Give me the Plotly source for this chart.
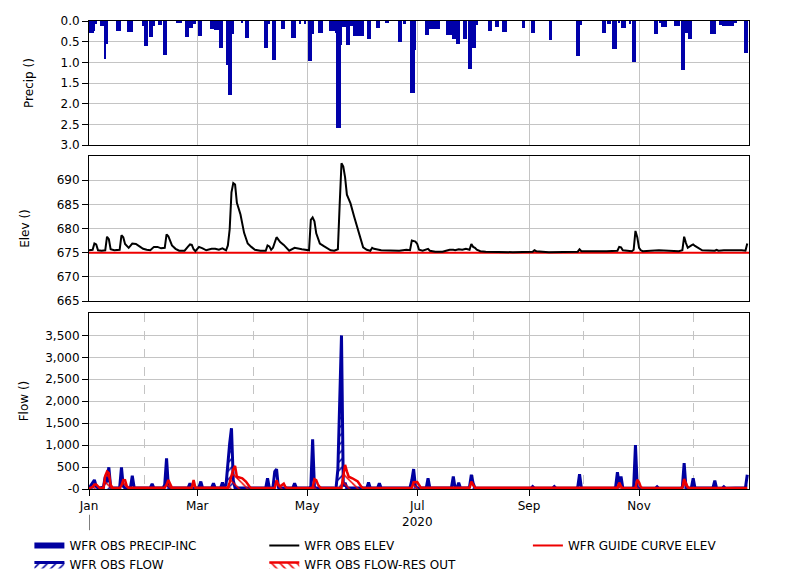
import pandas as pd
import plotly.graph_objects as go

BASE = pd.Timestamp("2020-01-01")

# ---------------- data (day-of-year offsets from 2020-01-01) ----------------
precip_days = [0, 1, 2, 3, 4, 7, 8, 9, 10, 16, 17, 22, 23, 24, 30, 31, 32, 34, 35, 36,
               39, 40, 42, 43, 49, 50, 51, 54, 55, 56, 57, 58, 59, 61, 62, 68, 69, 70, 71, 72,
               73, 74, 77, 78, 79, 80, 85, 87, 88, 98, 99, 100, 102, 103, 107, 108, 113, 114,
               117, 120, 122, 123, 124, 128, 129, 134, 135, 136, 137, 138, 139, 140, 141, 142,
               143, 144, 145, 146, 147, 148, 149, 150, 151, 152, 155, 156, 160, 161, 165, 166,
               172, 173, 175, 179, 180, 181, 187, 188, 189, 190, 191, 192, 193, 194, 199, 200,
               201, 202, 203, 204, 205, 208, 209, 211, 212, 213, 214, 215, 222, 223, 226, 227,
               230, 231, 241, 246, 247, 256, 271, 272, 273, 285, 286, 288, 289, 291, 292, 294,
               296, 297, 300, 302, 303, 314, 315, 317, 318, 319, 320, 325, 326, 327, 329, 330,
               331, 332, 333, 334, 345, 346, 347, 350, 351, 352, 353, 354, 355, 356, 357, 358,
               359, 364, 365]
precip_vals = [0.28, 0.28, 0.28, 0.25, 0.08, 0.12, 0.12, 0.91, 0.55, 0.24, 0.24, 0.26, 0.26, 0.26,
               0.12, 0.6, 0.6, 0.39, 0.39, 0.12, 0.1, 0.1, 0.82, 0.82, 0.06, 0.06, 0.06, 0.39,
               0.39, 0.16, 0.16, 0.07, 0.07, 0.36, 0.36, 0.2, 0.2, 0.22, 0.22, 0.22, 0.65, 0.65,
               1.07, 1.78, 1.78, 0.32, 0.06, 0.42, 0.42, 0.65, 0.65, 0.08, 0.94, 0.94, 0.2, 0.2,
               0.4, 0.4, 0.08, 0.08, 0.97, 0.97, 0.32, 0.28, 0.28, 0.24, 0.24, 0.24, 0.28, 2.6,
               2.6, 0.57, 0.15, 0.15, 0.57, 0.57, 0.12, 0.12, 0.37, 0.37, 0.37, 0.37, 0.37, 0.37,
               0.44, 0.44, 0.16, 0.16, 0.06, 0.06, 0.5, 0.5, 0.08, 1.75, 1.75, 0.69, 0.34, 0.34,
               0.2, 0.2, 0.2, 0.2, 0.2, 0.2, 0.34, 0.34, 0.34, 0.44, 0.44, 0.56, 0.56, 0.44, 0.44,
               1.15, 1.15, 0.65, 0.65, 0.1, 0.23, 0.23, 0.15, 0.15, 0.26, 0.26, 0.16, 0.28, 0.28,
               0.46, 0.85, 0.85, 0.1, 0.28, 0.28, 0.08, 0.08, 0.67, 0.67, 0.06, 0.18, 0.18, 0.08,
               0.98, 0.98, 0.31, 0.31, 0.06, 0.15, 0.15, 0.15, 0.12, 0.12, 0.12, 1.19, 1.19, 0.28,
               0.28, 0.44, 0.44, 0.32, 0.32, 0.32, 0.1, 0.1, 0.12, 0.12, 0.12, 0.12, 0.12, 0.12,
               0.06, 0.06, 0.77, 0.77]

elev_days = [0, 2, 3, 4, 5, 7, 9, 10, 11, 12, 14, 17, 18, 19, 20, 22, 24, 26, 28, 30, 32, 34,
             36, 38, 40, 42, 43, 44, 46, 48, 50, 53, 55, 56, 57, 58, 59, 61, 63, 65, 68, 70, 72,
             74, 76, 77, 78, 79, 80, 81, 82, 84, 86, 88, 90, 92, 95, 98, 99, 100, 101, 102, 104,
             105, 106, 108, 110, 111, 114, 116, 118, 122, 123, 124, 125, 126, 128, 130, 132, 134,
             136, 138, 139, 140, 141, 142, 143, 144, 145, 147, 149, 151, 152, 154, 156, 157, 158,
             162, 166, 172, 176, 178, 179, 180, 181, 182, 183, 185, 187, 188, 189, 192, 196, 200,
             202, 203, 205, 207, 209, 211, 212, 213, 214, 215, 217, 220, 235, 246, 247, 248, 255,
             271, 272, 273, 287, 293, 294, 295, 296, 301, 302, 303, 304, 305, 306, 307, 316, 327,
             329, 330, 331, 332, 334, 335, 336, 338, 340, 347, 348, 349, 352, 362, 364, 365]
elev_vals = [675.5, 675.6, 676.9, 676.7, 675.5, 675.4, 675.5, 678.3, 677.8, 675.7, 675.5, 675.6,
             678.6, 678.2, 676.8, 676.0, 676.9, 676.8, 676.3, 675.8, 675.6, 675.5, 676.2, 676.2,
             675.9, 676.0, 678.8, 678.4, 676.5, 675.8, 675.4, 675.4, 676.3, 676.7, 676.6, 675.7,
             675.3, 676.2, 675.9, 675.5, 675.8, 675.8, 675.6, 675.9, 675.5, 676.5, 679.8, 687.5,
             689.4, 689.1, 685.3, 682.9, 679.1, 676.9, 676.2, 675.6, 675.4, 675.4, 676.5, 676.3,
             675.6, 676.0, 678.2, 677.6, 677.2, 676.6, 675.9, 675.4, 676.0, 675.8, 675.7, 675.5,
             681.8, 682.3, 681.5, 679.0, 676.9, 676.4, 676.0, 675.5, 675.4, 675.7, 685.0, 693.5,
             692.8, 690.6, 687.0, 686.0, 685.2, 682.5, 680.0, 677.5, 676.1, 675.6, 675.4, 676.0,
             675.8, 675.5, 675.4, 675.4, 675.6, 675.5, 677.5, 677.4, 677.3, 676.8, 675.6, 675.4,
             675.6, 675.8, 675.4, 675.2, 675.2, 675.6, 675.6, 675.5, 675.7, 675.6, 675.8, 675.6,
             676.8, 676.2, 676.0, 675.6, 675.3, 675.2, 675.1, 675.2, 675.5, 675.3, 675.1, 675.2,
             675.7, 675.3, 675.3, 675.4, 676.2, 676.1, 675.5, 675.3, 675.6, 679.5, 678.2, 676.0,
             675.5, 675.3, 675.5, 675.3, 675.5, 678.3, 677.0, 676.0, 676.5, 676.7, 676.4, 675.9,
             675.5, 675.4, 675.6, 675.4, 675.5, 675.5, 675.4, 676.9]

guide_days = [0, 366]
guide_vals = [675.0, 675.0]

flow_days = [0, 2, 3, 4, 5, 8, 9, 10, 11, 12, 13, 17, 18, 19, 20, 23, 24, 25, 26, 33, 34, 35,
             36, 41, 42, 43, 44, 45, 54, 55, 56, 57, 60, 61, 62, 63, 67, 68, 69, 70, 72, 73, 74,
             75, 76, 77, 78, 79, 80, 81, 90, 98, 99, 100, 101, 102, 103, 104, 105, 106, 113, 114,
             115, 122, 123, 124, 125, 126, 136, 137, 138, 139, 140, 141, 142, 143, 154, 155, 156,
             160, 161, 162, 176, 178, 179, 180, 181, 182, 187, 188, 189, 200, 201, 202, 203, 204,
             205, 206, 210, 211, 212, 213, 214, 218, 245, 246, 247, 257, 258, 259, 270, 271, 272,
             273, 274, 291, 292, 293, 294, 295, 296, 301, 302, 303, 304, 305, 314, 315, 316, 328,
             329, 330, 331, 333, 334, 335, 336, 345, 346, 347, 348, 351, 352, 353, 363, 364, 365]
flow_vals = [20, 150, 205, 60, 20, 40, 280, 150, 495, 40, 20, 30, 495, 60, 20, 30, 300, 40, 20,
             20, 30, 115, 20, 20, 100, 700, 60, 20, 20, 30, 130, 20, 20, 40, 170, 20, 20, 30, 130,
             20, 20, 30, 150, 30, 100, 660, 1040, 1385, 200, 20, 20, 20, 245, 20, 20, 40, 395,
             450, 40, 20, 20, 130, 20, 20, 50, 1135, 40, 20, 20, 30, 450, 1955, 3500, 60, 145, 20,
             20, 150, 20, 20, 130, 20, 20, 30, 200, 455, 60, 20, 20, 245, 20, 20, 40, 285, 20, 20,
             145, 20, 20, 50, 325, 130, 20, 15, 15, 55, 15, 15, 55, 15, 15, 40, 340, 30, 15, 15,
             40, 385, 100, 285, 20, 15, 40, 1000, 40, 15, 15, 50, 15, 15, 40, 590, 40, 15, 30,
             245, 20, 15, 30, 190, 15, 15, 50, 15, 15, 30, 325]

resout_days = [0, 2, 3, 4, 5, 6, 8, 9, 10, 11, 12, 13, 17, 18, 19, 20, 21, 22, 42, 43, 44, 45,
               46, 57, 58, 59, 77, 78, 80, 81, 82, 85, 87, 89, 90, 103, 104, 105, 106, 108, 109,
               110, 124, 125, 126, 127, 128, 129, 140, 141, 142, 143, 144, 146, 149, 151, 152, 179,
               180, 182, 183, 184, 211, 212, 213, 214, 293, 294, 295, 296, 303, 304, 305, 306, 307,
               329, 330, 331, 332, 333, 365]
resout_vals = [10, 50, 100, 100, 60, 20, 20, 300, 395, 360, 100, 30, 20, 80, 205, 200, 60, 30,
               30, 100, 205, 120, 30, 30, 205, 30, 30, 150, 450, 525, 280, 245, 170, 55, 20, 30,
               200, 100, 60, 120, 40, 20, 30, 220, 200, 100, 40, 20, 30, 300, 550, 400, 280, 245,
               170, 50, 20, 30, 155, 160, 100, 30, 30, 170, 100, 30, 30, 145, 60, 20, 30, 210,
               150, 40, 20, 30, 225, 150, 40, 20, 20]

precip_ticks = [0.0, 0.5, 1.0, 1.5, 2.0, 2.5, 3.0]
elev_ticks = [665, 670, 675, 680, 685, 690]
flow_tick_vals = [0, 500, 1000, 1500, 2000, 2500, 3000, 3500]
flow_tick_text = ["-0", "500", "1,000", "1,500", "2,000", "2,500", "3,000", "3,500"]
year_label = "2020"


def to_dates(days):
    return BASE + pd.to_timedelta(days, unit="D")


BLUE = "#0000A0"
RED = "#EE0000"
GRID = "#C4C4C4"
FONT = "DejaVu Sans"

fig = go.Figure()

# precip (legend proxy + bars)
fig.add_trace(go.Scatter(x=[None], y=[None], mode="lines", name="WFR OBS PRECIP-INC",
                         line=dict(color=BLUE, width=6), legend="legend", xaxis="x", yaxis="y"))
fig.add_trace(go.Bar(x=to_dates(precip_days), y=precip_vals, marker=dict(color="#0000AA", line=dict(width=0)),
                     width=86400000 * 1.0, showlegend=False, xaxis="x", yaxis="y"))

# elevation
fig.add_trace(go.Scatter(x=to_dates(guide_days), y=guide_vals, mode="lines",
                         name="WFR GUIDE CURVE ELEV", line=dict(color=RED, width=2),
                         legend="legend3", xaxis="x2", yaxis="y2"))
fig.add_trace(go.Scatter(x=to_dates(elev_days), y=elev_vals, mode="lines",
                         name="WFR OBS ELEV", line=dict(color="black", width=2),
                         legend="legend2", xaxis="x2", yaxis="y2"))

# flows
fig.add_trace(go.Scatter(x=to_dates(flow_days), y=flow_vals, mode="lines", name="WFR OBS FLOW",
                         line=dict(color=BLUE, width=3), fill="tozeroy",
                         fillcolor="rgba(0,0,160,0.15)",
                         fillpattern=dict(shape="/", fgcolor=BLUE, bgcolor="rgba(0,0,0,0)",
                                          size=6, solidity=0.25, fillmode="replace"),
                         legend="legend", xaxis="x3", yaxis="y3"))
fig.add_trace(go.Scatter(x=to_dates(resout_days), y=resout_vals, mode="lines",
                         name="WFR OBS FLOW-RES OUT",
                         line=dict(color=RED, width=2.5), fill="tozeroy",
                         fillcolor="rgba(238,0,0,0.15)",
                         fillpattern=dict(shape="\\", fgcolor=RED, bgcolor="rgba(0,0,0,0)",
                                          size=6, solidity=0.25, fillmode="replace"),
                         legend="legend2", xaxis="x3", yaxis="y3"))

xr = ["2020-01-01", "2020-12-31 23:00"]
common_x = dict(type="date", range=xr, showline=True, mirror=True, linecolor="black", linewidth=1,
                showgrid=True, gridcolor=GRID, gridwidth=1, dtick="M2", tick0="2020-01-01",
                zeroline=False, automargin=False)
common_y = dict(showline=True, mirror=True, linecolor="black", linewidth=1, showgrid=True,
                gridcolor=GRID, gridwidth=1, ticks="outside", ticklen=6, tickcolor="black",
                zeroline=False, automargin=False,
                tickfont=dict(family=FONT, size=12, color="black"))

legend_common = dict(orientation="v", xanchor="left", yanchor="top", bgcolor="rgba(0,0,0,0)",
                     font=dict(family=FONT, size=12, color="black"), itemwidth=30,
                     tracegroupgap=0)

# page body has an 8px default margin, so margins are offset to land the plot at page (89, 21)
fig.update_layout(
    width=801, height=580,
    margin=dict(l=81, r=60, t=13, b=99, autoexpand=False),
    paper_bgcolor="white", plot_bgcolor="white",
    font=dict(family=FONT, size=12, color="black"),
    bargap=0,
    xaxis=dict(common_x, anchor="y", matches="x3", showticklabels=False, ticks=""),
    xaxis2=dict(common_x, anchor="y2", matches="x3", showticklabels=False, ticks=""),
    xaxis3=dict(common_x, anchor="y3", ticks="outside", ticklen=6, tickcolor="black",
                tickformat="%b", tickfont=dict(family=FONT, size=12, color="black"),
                minor=dict(dtick="M2", tick0="2020-02-01", showgrid=True, griddash="dash",
                           gridcolor=GRID, gridwidth=1, ticks="")),
    yaxis=dict(common_y, domain=[0.735, 1.0], range=[3.0, 0.0], tickvals=precip_ticks,
               tickformat=".1f", title=dict(text="Precip ()", standoff=24,
                                            font=dict(family=FONT, size=12))),
    yaxis2=dict(common_y, domain=[0.4017, 0.7115], range=[665, 695], tickvals=elev_ticks,
                title=dict(text="Elev ()", standoff=24, font=dict(family=FONT, size=12))),
    yaxis3=dict(common_y, domain=[0.0, 0.376], range=[0, 4010], tickvals=flow_tick_vals,
                ticktext=flow_tick_text,
                title=dict(text="Flow ()", standoff=14, font=dict(family=FONT, size=12))),
    legend=dict(legend_common, x=-0.0903, y=-0.0897),
    legend2=dict(legend_common, x=0.2656, y=-0.0897),
    legend3=dict(legend_common, x=0.665, y=-0.0897),
    annotations=[dict(text=year_label, xref="x3", x="2020-07-01", yref="paper", y=-0.07,
                      showarrow=False, yanchor="middle", font=dict(family=FONT, size=12))],
    shapes=[dict(type="line", xref="x3", x0="2020-01-01", x1="2020-01-01", yref="paper",
                 y0=-0.055, y1=-0.088, line=dict(color="black", width=1))],
)

fig.write_html("out.html")
